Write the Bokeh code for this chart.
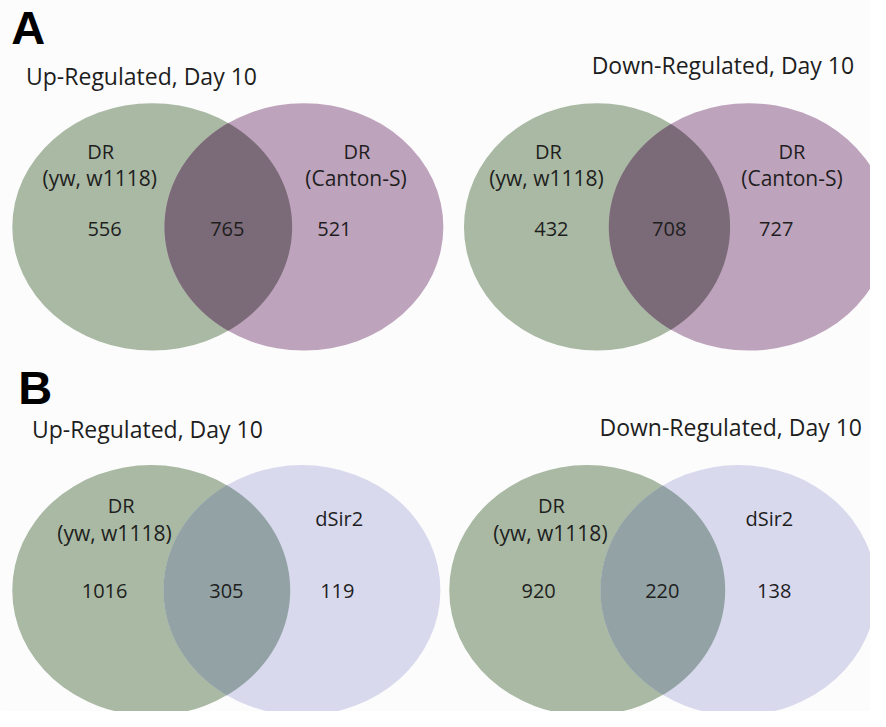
import numpy as np
from bokeh.plotting import figure
from bokeh.models import Range1d
from bokeh.core.properties import value
from bokeh.embed import file_html
from bokeh.resources import INLINE

# ---------------- data ----------------
panel_letters = ["A", "B"]
titles = ["Up-Regulated, Day 10", "Down-Regulated, Day 10",
          "Up-Regulated, Day 10", "Down-Regulated, Day 10"]
left_set_line1 = ["DR", "DR", "DR", "DR"]
left_set_line2 = ["(yw, w1118)", "(yw, w1118)", "(yw, w1118)", "(yw, w1118)"]
right_set_line1 = ["DR", "DR", "dSir2", "dSir2"]
right_set_line2 = ["(Canton-S)", "(Canton-S)"]
left_only = [556, 432, 1016, 920]
overlap = [765, 708, 305, 220]
right_only = [521, 727, 119, 138]

# ---------------- layout (reference pixel coordinates) ----------------
left_cx = [154.5, 607.5, 153.5, 597.5]
right_cx = [309, 762, 307, 751.5]
ell_cy = [231.5, 231.5, 603, 603]
left_w = [285, 271, 283, 281]
right_w = [284, 285, 282, 281]
ell_h = [253, 253, 256, 256]
left_col = ["#a9b9a3"] * 4
right_col = ["#bea3bc", "#bea3bc", "#d9d9ee", "#d9d9ee"]
lens_col = ["#7b6a78", "#7b6a78", "#93a3a5", "#93a3a5"]

title_x = [26, 602, 32, 610]
title_base = [87, 76, 448, 446]
lab1_lx = [102, 558, 123, 561]
lab2_lx = [101, 556, 116, 560]
lab1_rx = [363, 806, 345, 783]
lab2_rx = [362, 806]
lab1_base = [163, 163, 525, 525]
lab2_base = [190, 190, 553, 553]
rlab1_base = [163, 163, 538, 538]
num_lx = [106, 561, 106, 548]
num_ox = [231, 681, 230, 674]
num_rx = [340, 790, 343, 788]
num_base = [242, 242, 612, 612]
letter_x = [11, 18]
letter_base = [47, 415]

BG = "#fcfcfc"
TXT = "#1e1e1e"
FONT = value("Open Sans")
SHIFT = 0.42  # baseline correction (fraction of font size)

p = figure(width=870, height=711, x_range=Range1d(0, 886), y_range=Range1d(727, 0),
           x_axis_type=None, y_axis_type=None, toolbar_location=None,
           output_backend="svg", min_border=0)
p.outline_line_color = None
p.background_fill_color = BG
p.border_fill_color = BG


def lens(cx1, w1, cx2, w2, cy, h, n=720):
    a1, a2, b = w1 / 2, w2 / 2, h / 2
    t1 = np.linspace(-np.pi / 2, np.pi / 2, n)
    x1 = cx1 + a1 * np.cos(t1)
    y1 = cy + b * np.sin(t1)
    m1 = ((x1 - cx2) / a2) ** 2 + ((y1 - cy) / b) ** 2 <= 1
    t2 = np.linspace(np.pi / 2, 3 * np.pi / 2, n)
    x2 = cx2 + a2 * np.cos(t2)
    y2 = cy + b * np.sin(t2)
    m2 = ((x2 - cx1) / a1) ** 2 + ((y2 - cy) / b) ** 2 <= 1
    return (np.concatenate([x1[m1], x2[m2]]), np.concatenate([y1[m1], y2[m2]]))


for i in range(4):
    p.ellipse(x=[left_cx[i]], y=[ell_cy[i]], width=[left_w[i]], height=[ell_h[i]],
              fill_color=left_col[i], line_color=None)
    p.ellipse(x=[right_cx[i]], y=[ell_cy[i]], width=[right_w[i]], height=[ell_h[i]],
              fill_color=right_col[i], line_color=None)
    lx, ly = lens(left_cx[i], left_w[i], right_cx[i], right_w[i], ell_cy[i], ell_h[i])
    p.patch(lx, ly, fill_color=lens_col[i], line_color=None)


def put(xs, bases, texts, size, align="center", color=TXT, style="normal",
        font=FONT, shift=SHIFT):
    ys = [b - shift * size for b in bases]
    p.text(x=xs, y=ys, text=texts, text_font=font, text_font_size=f"{size}px",
           text_font_style=style, text_color=color, text_align=align,
           text_baseline="alphabetic")


put(title_x, title_base, titles, 23, align="left")
put(letter_x, letter_base, panel_letters, 47, align="left", color="#000000", style="bold",
    font=value("Liberation Sans"))
put(lab1_lx, lab1_base, left_set_line1, 20)
put(lab2_lx, lab2_base, left_set_line2, 21)
put(lab1_rx, rlab1_base, right_set_line1, 20)
put(lab2_rx, lab2_base[:2], right_set_line2, 21)
put(num_lx, num_base, [str(v) for v in left_only], 20)
put(num_ox, num_base, [str(v) for v in overlap], 20)
put(num_rx, num_base, [str(v) for v in right_only], 20)

open("out.html", "w").write(file_html(p, INLINE))
